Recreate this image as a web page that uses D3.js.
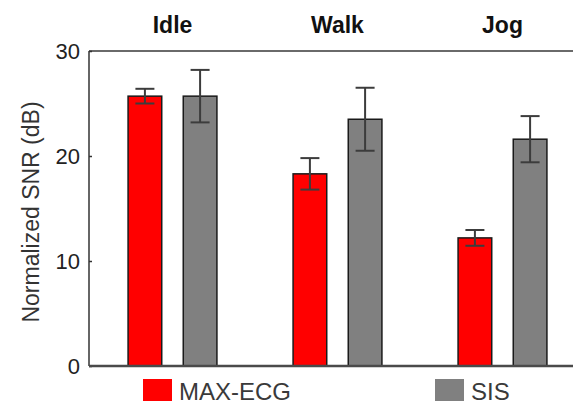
<!DOCTYPE html>
<html>
<head>
<meta charset="utf-8">
<script src="https://cdn.jsdelivr.net/npm/d3@7"></script>
<style>
  html, body { margin: 0; padding: 0; background: #fff; }
  svg { display: block; }
</style>
</head>
<body>
<svg id="chart" width="573" height="407"></svg>
<script>
// ---- data ----
const categories = ["Idle", "Walk", "Jog"];
const seriesNames = ["MAX-ECG", "SIS"];
const maxEcgMean = [25.7, 18.3, 12.2];
const maxEcgErr  = [0.7, 1.5, 0.75];
const sisMean    = [25.7, 23.5, 21.6];
const sisErr     = [2.5, 3.0, 2.2];
const yTicks     = [0, 10, 20, 30];
const colors     = ["#ff0000", "#808080"];

(function () {
const rows = [];
categories.forEach((c, i) => {
  rows.push({cat: c, s: seriesNames[0], v: maxEcgMean[i], e: maxEcgErr[i], col: colors[0]});
  rows.push({cat: c, s: seriesNames[1], v: sisMean[i], e: sisErr[i], col: colors[1]});
});

const svg = d3.select("#chart");
const mLeft = 89, mTop = 51, mBottom = 366, mRight = 573;
const font = "Liberation Sans, Arial, sans-serif";

const y = d3.scaleLinear().domain([0, 30]).range([mBottom, mTop]);
const x0 = d3.scaleBand().domain(categories).range([90, 585]).padding(0);
const x1 = d3.scaleBand().domain(seriesNames).range([0, x0.bandwidth()])
  .paddingInner(0.39).paddingOuter(0.69);

// top frame line
svg.append("line").attr("x1", mLeft).attr("x2", mRight).attr("y1", mTop).attr("y2", mTop)
  .attr("stroke", "#6a6a6a").attr("stroke-width", 2);

// bars
svg.append("g").selectAll("rect").data(rows).join("rect")
  .attr("x", d => x0(d.cat) + x1(d.s))
  .attr("y", d => y(d.v))
  .attr("width", x1.bandwidth())
  .attr("height", d => y(0) - y(d.v))
  .attr("fill", d => d.col)
  .attr("stroke", "#1a1a1a").attr("stroke-width", 1.5);

// error bars
const eg = svg.append("g").attr("stroke", "#3c3c3c").attr("stroke-width", 2);
rows.forEach(d => {
  const cx = x0(d.cat) + x1(d.s) + x1.bandwidth() / 2;
  const hw = 9.5;
  eg.append("line").attr("x1", cx).attr("x2", cx).attr("y1", y(d.v + d.e)).attr("y2", y(d.v - d.e));
  eg.append("line").attr("x1", cx - hw).attr("x2", cx + hw).attr("y1", y(d.v + d.e)).attr("y2", y(d.v + d.e));
  eg.append("line").attr("x1", cx - hw).attr("x2", cx + hw).attr("y1", y(d.v - d.e)).attr("y2", y(d.v - d.e));
});

// y axis
const yAxis = d3.axisLeft(y).tickValues(yTicks).tickSize(-3).tickPadding(9);
const ya = svg.append("g").attr("transform", `translate(${mLeft},0)`).call(yAxis);
ya.select(".domain").attr("stroke", "#333").attr("stroke-width", 1.5).attr("d", `M0,${mTop}V${mBottom}`);
ya.selectAll(".tick line").attr("stroke", "#333").attr("stroke-width", 1.5);
ya.selectAll(".tick text").attr("font-family", font).attr("font-size", 22).attr("fill", "#222");

// bottom axis line
svg.append("line").attr("x1", mLeft).attr("x2", mRight).attr("y1", mBottom).attr("y2", mBottom)
  .attr("stroke", "#4a4a4a").attr("stroke-width", 2.5);

// y label
svg.append("text")
  .attr("transform", `translate(39,${(97 + 327) / 2}) rotate(-90)`)
  .attr("text-anchor", "middle")
  .attr("font-family", font).attr("font-size", 23).attr("fill", "#333")
  .text("Normalized SNR (dB)");

// category labels
svg.append("g").selectAll("text").data(categories).join("text")
  .attr("x", d => x0(d) + x0.bandwidth() / 2)
  .attr("y", 33)
  .attr("text-anchor", "middle")
  .attr("font-family", font).attr("font-weight", "bold")
  .attr("font-size", 23).attr("fill", "#111")
  .text(d => d);

// legend
const legendX = [143, 435];
const lg = svg.append("g");
seriesNames.forEach((s, i) => {
  lg.append("rect").attr("x", legendX[i]).attr("y", 379).attr("width", 29).attr("height", 22)
    .attr("fill", colors[i]);
  lg.append("text").attr("x", legendX[i] + 36).attr("y", 400)
    .attr("font-family", font).attr("font-size", 24)
    .attr("fill", "#3a3a3a").text(s);
});
})();
</script>
</body>
</html>
